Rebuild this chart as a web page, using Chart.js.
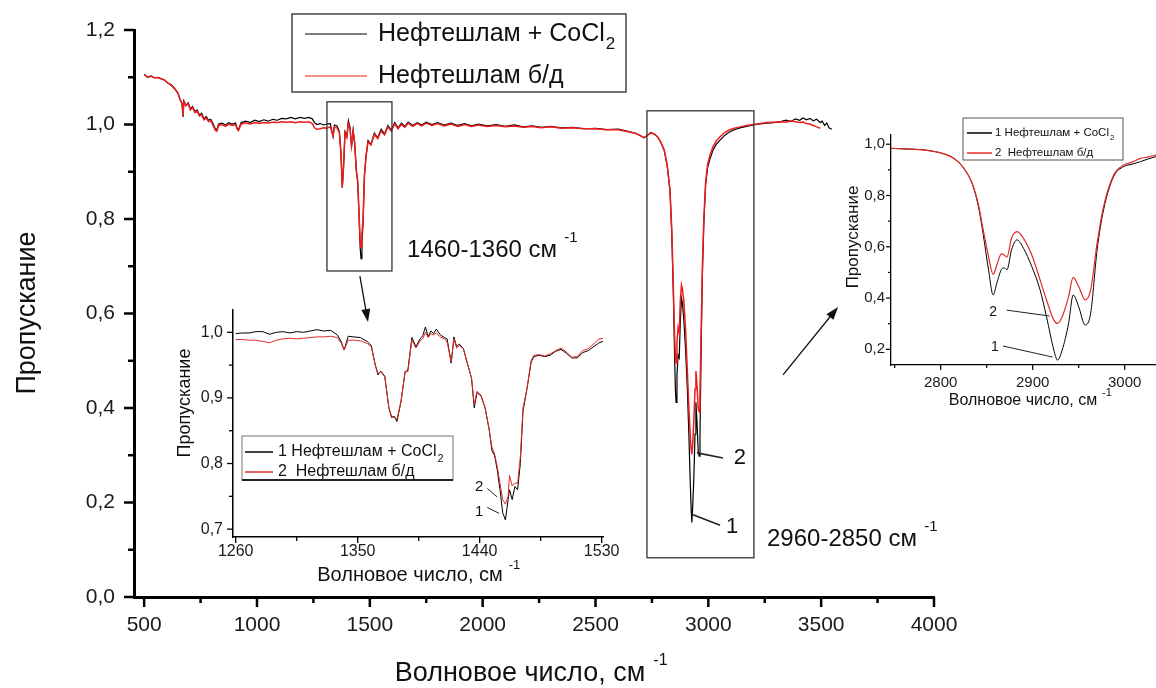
<!DOCTYPE html>
<html lang="ru">
<head>
<meta charset="utf-8">
<title>ИК-спектр нефтешлама</title>
<script src="https://cdn.jsdelivr.net/npm/chart.js@4.4.1/dist/chart.umd.min.js"></script>
<style>
  body { margin: 0; background: #fff; }
  #wrap { position: relative; width: 1156px; height: 688px; }
  #wrap canvas { position: absolute; }
</style>
</head>
<body>
<div id="wrap">
  <canvas id="main" width="1156" height="688" style="left:0;top:0"></canvas>
  <canvas id="ins1" width="480" height="295" style="left:150px;top:295px"></canvas>
  <canvas id="ins2" width="316" height="310" style="left:840px;top:110px"></canvas>
</div>
<script>
const FONT = "'Liberation Sans', Arial, Helvetica, sans-serif";
Chart.defaults.font.family = FONT;
Chart.defaults.color = '#1a1a1a';

const BLACK = '#000000', RED = '#ee1c1c', RED_IN = '#e42828';

const mainLabels = ['Нефтешлам + CoCl2', 'Нефтешлам б/д'];
const insetLabels = ['1 Нефтешлам + CoCl2', '2  Нефтешлам б/д'];

// full spectrum, wavenumber / transmittance
const mainWn = [
  500,515,530,545,560,575,590,605,620,635,
  650,660,668,672,676,685,695,705,715,725,
  735,745,755,765,775,785,795,805,815,822,
  830,845,860,875,890,905,912,918,930,950,
  970,990,1010,1030,1050,1070,1090,1110,1130,1150,
  1170,1190,1210,1230,1245,1255,1265,1280,1295,1310,
  1325,1337,1343,1355,1365,1372,1378,1383,1390,1398,
  1405,1412,1419,1426,1433,1440,1446,1452,1457,1461,
  1465,1470,1476,1483,1492,1505,1520,1535,1550,1565,
  1580,1595,1610,1625,1640,1655,1670,1690,1710,1730,
  1750,1775,1800,1830,1860,1890,1920,1950,1980,2020,
  2060,2100,2140,2180,2220,2260,2300,2350,2400,2450,
  2500,2550,2600,2640,2680,2700,2715,2730,2745,2760,
  2775,2790,2805,2818,2830,2838,2845,2850,2854,2857,
  2861,2866,2871,2876,2881,2885,2891,2899,2907,2914,
  2920,2924,2927,2931,2936,2941,2945,2950,2955,2959,
  2963,2968,2974,2980,2988,2997,3008,3020,3035,3050,
  3070,3090,3115,3140,3170,3200,3230,3260,3290,3320,
  3345,3365,3385,3405,3420,3435,3450,3465,3480,3496,
  3505,3515,3525,3535,3547
];
const mainBlack = [
  1.106,1.100,1.103,1.099,1.100,1.097,1.094,1.088,1.084,1.076,
  1.066,1.052,1.045,1.016,1.050,1.040,1.046,1.033,1.038,1.027,
  1.031,1.020,1.024,1.012,1.017,1.009,1.011,1.002,0.991,0.989,
  1.001,1.003,0.999,1.004,1.001,1.003,0.992,0.989,1.004,1.007,
  1.004,1.009,1.006,1.010,1.007,1.011,1.009,1.013,1.012,1.015,
  1.012,1.015,1.013,1.015,1.012,1.004,1.000,1.002,0.999,1.001,
  1.002,0.975,0.999,0.997,0.985,0.940,0.866,0.905,0.985,0.975,
  1.008,0.995,0.953,0.988,0.960,0.902,0.880,0.812,0.740,0.716,
  0.748,0.790,0.890,0.932,0.966,0.958,0.982,0.972,0.990,0.980,
  0.998,0.988,1.004,0.993,1.003,0.996,1.005,0.998,1.004,0.999,
  1.005,1.000,1.004,0.999,1.003,0.998,1.002,0.997,1.001,0.997,
  1.000,0.996,0.999,0.995,0.997,0.994,0.996,0.993,0.994,0.991,
  0.992,0.989,0.990,0.986,0.981,0.976,0.972,0.977,0.983,0.980,
  0.974,0.962,0.945,0.912,0.860,0.770,0.640,0.520,0.440,0.412,
  0.470,0.512,0.506,0.585,0.632,0.622,0.590,0.525,0.440,0.340,
  0.240,0.185,0.158,0.195,0.255,0.345,0.412,0.368,0.310,0.298,
  0.340,0.520,0.690,0.790,0.872,0.910,0.928,0.945,0.958,0.966,
  0.976,0.983,0.989,0.993,0.996,0.999,1.001,1.003,1.004,1.006,
  1.009,1.006,1.012,1.009,1.014,1.010,1.013,1.008,1.011,1.004,
  1.007,0.998,1.003,0.993,0.990
];
const mainRed = [
  1.106,1.100,1.102,1.099,1.099,1.097,1.094,1.088,1.083,1.076,
  1.066,1.052,1.044,1.018,1.048,1.040,1.044,1.031,1.036,1.025,
  1.028,1.018,1.021,1.010,1.014,1.006,1.008,0.999,0.988,0.986,
  0.998,1.000,0.996,1.001,0.998,1.000,0.990,0.987,1.001,1.003,
  1.001,1.004,1.002,1.004,1.003,1.005,1.004,1.006,1.005,1.006,
  1.004,1.006,1.005,1.006,1.002,0.993,0.990,0.991,0.993,0.992,
  0.995,0.975,0.994,0.993,0.982,0.940,0.868,0.905,0.982,0.973,
  1.002,0.992,0.955,0.985,0.960,0.904,0.882,0.816,0.755,0.740,
  0.768,0.800,0.892,0.932,0.963,0.957,0.979,0.970,0.986,0.978,
  0.995,0.986,1.001,0.991,1.000,0.994,1.003,0.996,1.002,0.997,
  1.003,0.998,1.002,0.997,1.001,0.996,1.000,0.996,0.999,0.996,
  0.998,0.995,0.997,0.994,0.996,0.993,0.995,0.992,0.993,0.991,
  0.991,0.989,0.989,0.985,0.981,0.976,0.972,0.977,0.982,0.980,
  0.974,0.962,0.945,0.913,0.862,0.778,0.655,0.560,0.510,0.495,
  0.540,0.570,0.560,0.628,0.660,0.652,0.628,0.568,0.478,0.398,
  0.340,0.312,0.302,0.325,0.375,0.440,0.478,0.446,0.402,0.392,
  0.430,0.560,0.705,0.800,0.878,0.916,0.936,0.952,0.965,0.973,
  0.982,0.988,0.992,0.995,0.998,1.000,1.002,1.004,1.005,1.006,
  1.005,1.008,1.006,1.004,1.005,1.002,1.001,0.998,0.995,0.992,
  null,null,null,null,null
];

// inset 1: 1260-1530 cm-1
const in1Wn = [
  1260,1265,1270,1275,1280,1285,1290,1295,1300,1305,
  1310,1315,1320,1325,1330,1335,1338,1340,1343,1347,
  1352,1357,1360,1363,1365,1367,1370,1373,1375,1377,
  1379,1382,1385,1387,1390,1393,1396,1398,1400,1402,
  1404,1406,1408,1411,1414,1416,1419,1421,1423,1425,
  1428,1431,1434,1436,1438,1441,1444,1447,1449,1451,
  1453,1455,1457,1459,1461,1462,1464,1466,1468,1470,
  1472,1475,1478,1480,1484,1488,1492,1496,1500,1504,
  1508,1512,1516,1520,1524,1528,1531
];
const in1Black = [
  0.998,0.999,0.999,1.001,1.001,0.997,1.000,1.001,0.999,1.001,
  1.000,1.002,1.004,1.002,1.003,0.996,0.985,0.973,0.994,0.993,
  0.992,0.986,0.980,0.950,0.935,0.941,0.933,0.885,0.870,0.872,
  0.864,0.895,0.940,0.942,0.992,0.978,0.990,0.995,1.008,0.993,
  1.002,0.998,1.005,0.996,0.992,0.990,0.953,0.993,0.978,0.982,
  0.975,0.952,0.930,0.885,0.908,0.903,0.885,0.852,0.820,0.812,
  0.790,0.760,0.725,0.714,0.745,0.760,0.745,0.765,0.760,0.800,
  0.880,0.915,0.955,0.963,0.965,0.963,0.965,0.971,0.974,0.968,
  0.961,0.961,0.969,0.972,0.978,0.984,0.986
];
const in1Red = [
  0.989,0.989,0.988,0.988,0.986,0.984,0.988,0.990,0.991,0.990,
  0.991,0.992,0.993,0.993,0.994,0.992,0.983,0.973,0.988,0.988,
  0.987,0.983,0.978,0.950,0.937,0.940,0.932,0.885,0.872,0.870,
  0.868,0.895,0.940,0.940,0.988,0.976,0.987,0.990,1.000,0.992,
  0.998,0.996,0.999,0.993,0.990,0.985,0.955,0.990,0.976,0.980,
  0.975,0.952,0.930,0.890,0.910,0.904,0.885,0.852,0.825,0.815,
  0.795,0.770,0.745,0.738,0.750,0.782,0.766,0.770,0.770,0.810,
  0.885,0.915,0.957,0.965,0.966,0.964,0.967,0.972,0.976,0.970,
  0.962,0.963,0.972,0.975,0.982,0.990,0.991
];

// inset 2: 2746-3034 cm-1
const in2Wn = [
  2746,2760,2781,2800,2814,2825,2834,2841,2846,2852,
  2857,2861,2866,2869,2872,2877,2883,2890,2899,2908,
  2915,2923,2927,2932,2939,2944,2950,2957,2963,2970,
  2977,2988,2999,3008,3017,3025,3034
];
const in2Black = [
  0.984,0.982,0.978,0.966,0.945,0.906,0.848,0.757,0.653,0.510,
  0.412,0.458,0.512,0.518,0.510,0.588,0.627,0.594,0.523,0.432,
  0.327,0.197,0.158,0.197,0.301,0.412,0.366,0.295,0.341,0.588,
  0.744,0.874,0.913,0.922,0.932,0.942,0.952
];
const in2Red = [
  0.984,0.982,0.978,0.966,0.946,0.908,0.850,0.765,0.670,0.562,
  0.492,0.529,0.572,0.568,0.560,0.633,0.659,0.633,0.568,0.471,
  0.393,0.314,0.301,0.327,0.406,0.481,0.445,0.393,0.432,0.614,
  0.757,0.880,0.919,0.930,0.945,0.950,0.958
];

// ticks
const mainXTicks = [500,750,1000,1250,1500,1750,2000,2250,2500,2750,3000,3250,3500,3750,4000];
const mainXLabels = ['500','','1000','','1500','','2000','','2500','','3000','','3500','','4000'];
const mainYTicks = [0,0.1,0.2,0.3,0.4,0.5,0.6,0.7,0.8,0.9,1.0,1.1,1.2];
const mainYLabels = ['0,0','','0,2','','0,4','','0,6','','0,8','','1,0','','1,2'];
const in1XTicks = [1260,1305,1350,1395,1440,1485,1530];
const in1XLabels = ['1260','','1350','','1440','','1530'];
const in1YTicks = [0.7,0.75,0.8,0.85,0.9,0.95,1.0];
const in1YLabels = ['0,7','','0,8','','0,9','','1,0'];
const in2XTicks = [2750,2800,2850,2900,2950,3000];
const in2XLabels = ['','2800','','2900','','3000'];
const in2YTicks = [0.2,0.3,0.4,0.5,0.6,0.7,0.8,0.9,1.0];
const in2YLabels = ['0,2','','0,4','','0,6','','0,8','','1,0'];

// annotations on the full spectrum, in data units
const zoomBoxes = [[1310, 0.690, 1598, 1.048], [2728, 0.083, 3202, 1.029]];
const zoomArrows = [[1456, 0.679, 1492, 0.582], [3331, 0.470, 3575, 0.614]];
const rangeNotes = [
  { text: '1460-1360 см', x: 1665, y: 0.734 },
  { text: '2960-2850 см', x: 3260, y: 0.123 }
];
const mainPeaks = [
  { label: '2', x0: 2950, y0: 0.305, x1: 3065, y1: 0.294, tx: 3140, ty: 0.294 },
  { label: '1', x0: 2932, y0: 0.174, x1: 3052, y1: 0.152, tx: 3105, ty: 0.148 }
];
const in1Peaks = [
  { label: '2', x0: 1445.6, y0: 0.762, x1: 1453, y1: 0.749, tx: 1439.7, ty: 0.764 },
  { label: '1', x0: 1445.6, y0: 0.733, x1: 1454.4, y1: 0.724, tx: 1439.7, ty: 0.727 }
];
const in2Peaks = [
  { label: '2', x0: 2871.7, y0: 0.353, x1: 2918.4, y1: 0.330, tx: 2857, ty: 0.346 },
  { label: '1', x0: 2867.7, y0: 0.213, x1: 2921.7, y1: 0.170, tx: 2859, ty: 0.209 }
];

function pts(xs, ys) {
  const out = [];
  xs.forEach((x, i) => { if (ys[i] !== null) out.push({ x: x, y: ys[i] }); });
  return out;
}

function axis(min, max, vals, labels, o) {
  return {
    type: 'linear', min: min, max: max,
    afterBuildTicks: s => { s.ticks = vals.map(v => ({ value: v })); },
    afterFit: s => {
      if (o.w !== undefined) s.width = o.w;
      if (o.h !== undefined) s.height = o.h;
    },
    border: { color: '#000', width: o.bw },
    grid: { drawOnChartArea: false, color: 'rgba(0,0,0,0)', tickLength: o.tl },
    ticks: {
      autoSkip: false, maxRotation: 0, minRotation: 0, padding: o.pad,
      font: { size: o.fs }, color: '#1a1a1a',
      callback: (v, i) => labels[i]
    }
  };
}

// outward tick marks, long for labelled ticks, short for the rest
function tickMarks(major, minor, width) {
  return {
    id: 'tickMarks',
    afterDraw(chart) {
      const ctx = chart.ctx;
      ctx.save();
      ctx.strokeStyle = '#000';
      ctx.lineWidth = width;
      ['x', 'y'].forEach(id => {
        const s = chart.scales[id];
        s.ticks.forEach(t => {
          const len = t.label ? major : minor;
          const p = s.getPixelForValue(t.value);
          ctx.beginPath();
          if (id === 'x') { ctx.moveTo(p, s.top); ctx.lineTo(p, s.top + len); }
          else { ctx.moveTo(s.right, p); ctx.lineTo(s.right - len, p); }
          ctx.stroke();
        });
      });
      ctx.restore();
    }
  };
}

function txt(ctx, s, x, y, size, align) {
  ctx.font = size + 'px ' + FONT;
  ctx.textAlign = align || 'left';
  ctx.textBaseline = 'middle';
  ctx.fillText(s, x, y);
  return ctx.measureText(s).width;
}

function vtxt(ctx, s, x, y, size) {
  ctx.save();
  ctx.translate(x, y);
  ctx.rotate(-Math.PI / 2);
  txt(ctx, s, 0, 0, size, 'center');
  ctx.restore();
}

function supText(ctx, s, sup, x, y, size, supSize, align) {
  ctx.font = size + 'px ' + FONT;
  const w = ctx.measureText(s).width;
  const left = align === 'center' ? x - w / 2 : x;
  txt(ctx, s, left, y, size, 'left');
  txt(ctx, sup, left + w + size * 0.3, y - size * 0.5, supSize, 'left');
}

function subText(ctx, s, x, y, size) {
  const m = s.match(/^(.*CoCl)(2)$/);
  if (!m) return txt(ctx, s, x, y, size);
  const w = txt(ctx, m[1], x, y, size);
  txt(ctx, m[2], x + w + 1, y + size * 0.42, size * 0.68);
}

function legendBox(ctx, chart, o) {
  ctx.save();
  ctx.strokeStyle = o.frame;
  ctx.lineWidth = o.lw;
  ctx.strokeRect(o.x, o.y, o.w, o.h);
  if (o.shadow) {
    ctx.lineWidth = 2;
    ctx.strokeStyle = '#222';
    ctx.beginPath(); ctx.moveTo(o.x, o.y + o.h); ctx.lineTo(o.x + o.w, o.y + o.h); ctx.stroke();
  }
  chart.data.datasets.forEach((d, i) => {
    const y = o.rows[i];
    ctx.strokeStyle = d.borderColor;
    ctx.lineWidth = o.lineW;
    ctx.beginPath(); ctx.moveTo(o.lx0, y); ctx.lineTo(o.lx1, y); ctx.stroke();
    ctx.fillStyle = '#111';
    subText(ctx, d.label, o.tx, y, o.size);
  });
  ctx.restore();
}

function peakLabels(chart, list, size, lw) {
  const ctx = chart.ctx;
  const X = v => chart.scales.x.getPixelForValue(v);
  const Y = v => chart.scales.y.getPixelForValue(v);
  ctx.save();
  ctx.strokeStyle = '#222';
  ctx.fillStyle = '#111';
  ctx.lineWidth = lw;
  list.forEach(n => {
    ctx.beginPath(); ctx.moveTo(X(n.x0), Y(n.y0)); ctx.lineTo(X(n.x1), Y(n.y1)); ctx.stroke();
    txt(ctx, n.label, X(n.tx), Y(n.ty), size, 'center');
  });
  ctx.restore();
}

function arrow(ctx, x0, y0, x1, y1) {
  const a = Math.atan2(y1 - y0, x1 - x0), h = 13, w = 4.5;
  ctx.beginPath();
  ctx.moveTo(x0, y0);
  ctx.lineTo(x1 - h * 0.8 * Math.cos(a), y1 - h * 0.8 * Math.sin(a));
  ctx.stroke();
  ctx.beginPath();
  ctx.moveTo(x1, y1);
  ctx.lineTo(x1 - h * Math.cos(a) + w * Math.sin(a), y1 - h * Math.sin(a) - w * Math.cos(a));
  ctx.lineTo(x1 - h * Math.cos(a) - w * Math.sin(a), y1 - h * Math.sin(a) + w * Math.cos(a));
  ctx.closePath();
  ctx.fill();
}

function drawMainNotes(chart) {
  const ctx = chart.ctx;
  const X = v => chart.scales.x.getPixelForValue(v);
  const Y = v => chart.scales.y.getPixelForValue(v);
  ctx.save();
  ctx.strokeStyle = '#333';
  ctx.lineWidth = 1.3;
  zoomBoxes.forEach(([x0, y0, x1, y1]) => ctx.strokeRect(X(x0), Y(y1), X(x1) - X(x0), Y(y0) - Y(y1)));
  ctx.strokeStyle = '#111';
  ctx.fillStyle = '#111';
  ctx.lineWidth = 1.3;
  zoomArrows.forEach(([x0, y0, x1, y1]) => arrow(ctx, X(x0), Y(y0), X(x1), Y(y1)));
  rangeNotes.forEach(n => supText(ctx, n.text, '-1', X(n.x), Y(n.y), 24, 15, 'left'));
  vtxt(ctx, 'Пропускание', 28, 313, 27);
  supText(ctx, 'Волновое число, см', '-1', 520, 674, 27, 16, 'center');
  ctx.restore();
  peakLabels(chart, mainPeaks, 22, 1.6);
  legendBox(ctx, chart, {
    x: 292, y: 14, w: 334, h: 78, frame: '#444', lw: 1.5,
    rows: [34, 76], lx0: 305, lx1: 367, lineW: 1, tx: 378, size: 25
  });
}

function drawIn1Notes(chart) {
  const ctx = chart.ctx;
  ctx.save();
  ctx.fillStyle = '#111';
  vtxt(ctx, 'Пропускание', 35, 108, 18);
  supText(ctx, 'Волновое число, см', '-1', 260, 280, 20, 13, 'center');
  ctx.restore();
  peakLabels(chart, in1Peaks, 15, 1);
  legendBox(ctx, chart, {
    x: 92, y: 141, w: 211, h: 44, frame: '#777', lw: 1, shadow: true,
    rows: [157, 177], lx0: 95, lx1: 123, lineW: 1.5, tx: 128, size: 16
  });
}

function drawIn2Notes(chart) {
  const ctx = chart.ctx;
  ctx.save();
  ctx.fillStyle = '#111';
  vtxt(ctx, 'Пропускание', 13, 127, 17);
  supText(ctx, 'Волновое число, см', '-1', 183, 291, 16, 11, 'center');
  ctx.restore();
  peakLabels(chart, in2Peaks, 14, 1);
  legendBox(ctx, chart, {
    x: 123, y: 8, w: 160, h: 42, frame: '#555', lw: 1,
    rows: [23, 43], lx0: 127, lx1: 152, lineW: 1.5, tx: 155, size: 11.5
  });
}

const common = {
  responsive: false,
  animation: false,
  devicePixelRatio: 1,
  elements: { point: { radius: 0 }, line: { tension: 0 } },
  plugins: { legend: { display: false }, tooltip: { enabled: false } }
};

new Chart(document.getElementById('main'), {
  type: 'line',
  data: {
    datasets: [
      { label: mainLabels[0], data: pts(mainWn, mainBlack), borderColor: BLACK, borderWidth: 1.2, order: 2 },
      { label: mainLabels[1], data: pts(mainWn, mainRed), borderColor: RED, borderWidth: 1.5, order: 1 }
    ]
  },
  options: Object.assign({}, common, {
    layout: { padding: { top: 30, right: 222, bottom: 0, left: 0 } },
    scales: {
      x: axis(455, 4000, mainXTicks, mainXLabels, { h: 91, bw: 3, tl: 10, pad: 6, fs: 21 }),
      y: axis(0, 1.2, mainYTicks, mainYLabels, { w: 134, bw: 3, tl: 10, pad: 9, fs: 21 })
    }
  }),
  plugins: [tickMarks(10, 6, 2.5), { id: 'notes', afterDraw: drawMainNotes }]
});

new Chart(document.getElementById('ins1'), {
  type: 'line',
  data: {
    datasets: [
      { label: insetLabels[0], data: pts(in1Wn, in1Black), borderColor: BLACK, borderWidth: 1, order: 2 },
      { label: insetLabels[1], data: pts(in1Wn, in1Red), borderColor: RED_IN, borderWidth: 1, order: 1 }
    ]
  },
  options: Object.assign({}, common, {
    layout: { padding: { top: 15, right: 27, bottom: 0, left: 0 } },
    scales: {
      x: axis(1258, 1531, in1XTicks, in1XLabels, { h: 53, bw: 1.5, tl: 4, pad: 1, fs: 16 }),
      y: axis(0.688, 1.034, in1YTicks, in1YLabels, { w: 83, bw: 1.5, tl: 6, pad: 4, fs: 16 })
    }
  }),
  plugins: [tickMarks(6, 4, 1.3), { id: 'notes', afterDraw: drawIn1Notes }]
});

new Chart(document.getElementById('ins2'), {
  type: 'line',
  data: {
    datasets: [
      { label: insetLabels[0], data: pts(in2Wn, in2Black), borderColor: BLACK, borderWidth: 1, order: 2, cubicInterpolationMode: 'monotone' },
      { label: insetLabels[1], data: pts(in2Wn, in2Red), borderColor: RED_IN, borderWidth: 1.2, order: 1, cubicInterpolationMode: 'monotone' }
    ]
  },
  options: Object.assign({}, common, {
    layout: { padding: { top: 25, right: 0, bottom: 0, left: 0 } },
    scales: {
      x: axis(2746, 3034, in2XTicks, in2XLabels, { h: 55, bw: 1.3, tl: 5, pad: 4, fs: 15 }),
      y: axis(0.139, 1.036, in2YTicks, in2YLabels, { w: 51, bw: 1.3, tl: 4, pad: 2, fs: 15 })
    }
  }),
  plugins: [tickMarks(5, 3, 1.2), { id: 'notes', afterDraw: drawIn2Notes }]
});
</script>
</body>
</html>
